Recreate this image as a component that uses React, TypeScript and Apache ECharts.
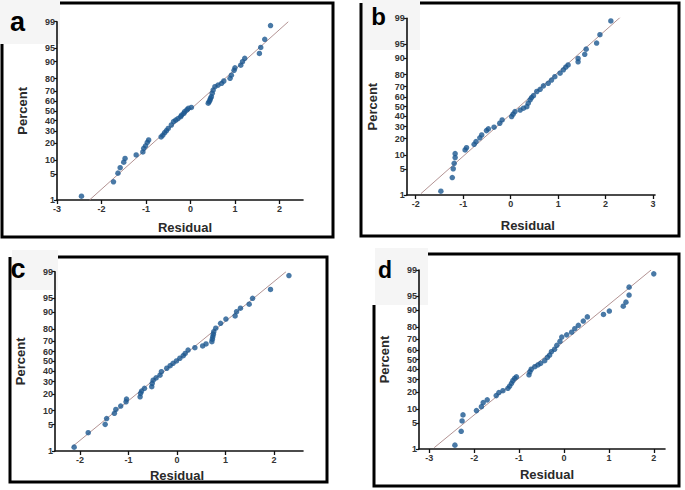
import React, { useEffect, useRef } from "react";
import * as echarts from "echarts";

const percentTicks = [1, 5, 10, 20, 30, 40, 50, 60, 70, 80, 90, 95, 99];
const panelLetters = ["a", "b", "c", "d"];
const xTitle = "Residual";
const yTitle = "Percent";

const residualTicksA = [-3, -2, -1, 0, 1, 2];
const residualTicksB = [-2, -1, 0, 1, 2, 3];
const residualTicksC = [-2, -1, 0, 1, 2];
const residualTicksD = [-3, -2, -1, 0, 1, 2];

const residA = [-2.45, -1.73, -1.63, -1.58, -1.5, -1.47, -1.22, -1.07, -1.05, -1.01, -0.97, -0.94, -0.66, -0.62, -0.58, -0.54, -0.5, -0.43, -0.38, -0.33, -0.28, -0.22, -0.2, -0.15, -0.13, -0.08, -0.05, 0.02, 0.4, 0.42, 0.44, 0.45, 0.47, 0.49, 0.51, 0.55, 0.62, 0.7, 0.75, 0.89, 0.92, 0.98, 1.0, 1.13, 1.17, 1.22, 1.55, 1.58, 1.67, 1.8];
const pctA = [1.3, 3.2, 5.2, 6.9, 9.0, 10.7, 12.5, 14.2, 16.4, 18.1, 20.6, 22.4, 24.8, 26.4, 28.4, 30.2, 32.3, 35.6, 39.0, 40.5, 42.0, 44.0, 45.6, 47.3, 49.2, 51.0, 52.6, 53.5, 57.9, 59.5, 61.1, 62.8, 64.4, 67.6, 70.6, 73.6, 74.9, 76.4, 78.2, 80.2, 82.4, 85.5, 86.9, 88.3, 90.0, 91.5, 93.3, 95.1, 96.9, 98.7];

const residB = [-1.47, -1.23, -1.21, -1.19, -1.17, -1.17, -0.96, -0.93, -0.77, -0.73, -0.65, -0.61, -0.51, -0.47, -0.35, -0.23, -0.18, 0.02, 0.05, 0.09, 0.2, 0.27, 0.34, 0.37, 0.41, 0.44, 0.48, 0.55, 0.62, 0.69, 0.79, 0.86, 0.93, 1.04, 1.11, 1.16, 1.21, 1.42, 1.42, 1.56, 1.59, 1.81, 1.88, 2.11];
const pctB = [1.3, 3.1, 5.1, 6.8, 9.0, 10.8, 12.7, 14.0, 16.1, 17.9, 20.6, 22.8, 26.4, 27.9, 29.4, 33.1, 36.3, 39.7, 42.1, 44.8, 46.4, 48.4, 50.0, 53.6, 57.1, 59.5, 61.4, 65.5, 67.6, 70.8, 73.1, 75.8, 78.5, 81.1, 83.4, 85.1, 86.4, 88.1, 89.8, 91.6, 93.5, 95.3, 97.1, 98.8];

const residC = [-2.12, -1.83, -1.48, -1.45, -1.29, -1.26, -1.16, -1.05, -1.04, -0.76, -0.75, -0.73, -0.67, -0.52, -0.51, -0.49, -0.43, -0.35, -0.32, -0.21, -0.14, -0.08, -0.01, 0.06, 0.13, 0.17, 0.23, 0.37, 0.53, 0.6, 0.72, 0.73, 0.74, 0.75, 0.76, 0.8, 0.9, 1.01, 1.2, 1.23, 1.31, 1.49, 1.56, 1.93, 2.31];
const pctC = [1.3, 3.2, 5.1, 6.9, 8.9, 10.6, 12.3, 14.7, 16.4, 17.9, 20.3, 22.0, 24.2, 25.5, 28.4, 31.2, 33.4, 36.0, 39.4, 42.9, 45.5, 48.0, 50.4, 53.2, 55.8, 58.1, 61.5, 63.8, 65.5, 67.4, 69.5, 71.7, 73.9, 75.9, 77.9, 80.5, 83.8, 86.4, 88.1, 90.1, 91.6, 93.1, 94.9, 96.9, 98.7];

const residD = [-2.43, -2.29, -2.27, -2.25, -1.95, -1.84, -1.8, -1.71, -1.51, -1.45, -1.36, -1.25, -1.21, -1.17, -1.14, -1.1, -1.06, -0.78, -0.76, -0.73, -0.65, -0.58, -0.52, -0.43, -0.37, -0.32, -0.28, -0.21, -0.16, -0.09, -0.05, 0.06, 0.17, 0.24, 0.32, 0.43, 0.52, 0.88, 1.01, 1.32, 1.38, 1.45, 1.45, 2.0];
const pctD = [1.3, 3.1, 5.5, 7.5, 9.2, 11.0, 13.1, 14.7, 17.4, 19.5, 20.9, 22.7, 24.5, 26.8, 29.1, 31.2, 32.6, 34.5, 37.5, 40.0, 42.6, 44.4, 46.1, 48.8, 52.2, 54.6, 58.0, 60.5, 64.4, 68.1, 72.0, 73.9, 76.1, 78.8, 81.3, 84.1, 86.6, 87.9, 89.6, 91.7, 93.2, 95.3, 97.0, 98.7];

const fitResidA = [-2.27, 2.2];
const fitPctA = [1.0, 99.0];
const fitResidB = [-1.89, 2.32];
const fitPctB = [1.1, 99.1];
const fitResidC = [-2.17, 2.25];
const fitPctC = [1.3, 99.0];
const fitResidD = [-2.89, 1.94];
const fitPctD = [1.1, 99.0];

// inverse normal CDF (probability-scale axis transform)
function probit(p: number): number {
  const a = [-3.969683028665376e1, 2.209460984245205e2, -2.759285104469687e2, 1.38357751867269e2, -3.066479806614716e1, 2.506628277459239];
  const b = [-5.447609879822406e1, 1.615858368580409e2, -1.556989798598866e2, 6.680131188771972e1, -1.328068155288572e1];
  const c = [-7.784894002430293e-3, -3.223964580411365e-1, -2.400758277161838, -2.549732539343734, 4.374664141464968, 2.938163982698783];
  const d = [7.784695709041462e-3, 3.224671290700398e-1, 2.445134137142996, 3.754408661907416];
  const plow = 0.02425;
  if (p < plow) {
    const q = Math.sqrt(-2 * Math.log(p));
    return (((((c[0] * q + c[1]) * q + c[2]) * q + c[3]) * q + c[4]) * q + c[5]) / ((((d[0] * q + d[1]) * q + d[2]) * q + d[3]) * q + 1);
  }
  if (p <= 1 - plow) {
    const q = p - 0.5;
    const r = q * q;
    return ((((((a[0] * r + a[1]) * r + a[2]) * r + a[3]) * r + a[4]) * r + a[5]) * q) / (((((b[0] * r + b[1]) * r + b[2]) * r + b[3]) * r + b[4]) * r + 1);
  }
  const q = Math.sqrt(-2 * Math.log(1 - p));
  return -(((((c[0] * q + c[1]) * q + c[2]) * q + c[3]) * q + c[4]) * q + c[5]) / ((((d[0] * q + d[1]) * q + d[2]) * q + d[3]) * q + 1);
}

const FONT = "'Liberation Sans', Arial, sans-serif";
const POINT_COLOR = "#1b5890";
const FIT_COLOR = "#b39393";

type Panel = {
  grid: { left: number; top: number; width: number; height: number };
  xMin: number;
  xMax: number;
  xTicks: number[];
  resid: number[];
  pct: number[];
  fitResid: number[];
  fitPct: number[];
  namePad: number[];
  nameGap: number;
};

const panels: Panel[] = [
  { grid: { left: 57, top: 21.7, width: 246, height: 178.3 }, xMin: -3, xMax: 2.53, xTicks: residualTicksA, resid: residA, pct: pctA, fitResid: fitResidA, fitPct: fitPctA, namePad: [0, 0, 0, 10], nameGap: 21 },
  { grid: { left: 406.7, top: 18.3, width: 248.3, height: 176.7 }, xMin: -2.19, xMax: 3.04, xTicks: residualTicksB, resid: residB, pct: pctB, fitResid: fitResidB, fitPct: fitPctB, namePad: [0, 6, 0, 0], nameGap: 24 },
  { grid: { left: 55, top: 271.7, width: 248, height: 179.3 }, xMin: -2.515, xMax: 2.6, xTicks: residualTicksC, resid: residC, pct: pctC, fitResid: fitResidC, fitPct: fitPctC, namePad: [0, 4, 0, 0], nameGap: 18 },
  { grid: { left: 419, top: 270, width: 246, height: 179 }, xMin: -3.23, xMax: 2.25, xTicks: residualTicksD, resid: residD, pct: pctD, fitResid: fitResidD, fitPct: fitPctD, namePad: [0, 0, 0, 10], nameGap: 19 },
];

// frame outlines (open at the top-left where the letter tag sits)
const frames: number[][][] = [
  [[60, 3], [333, 3], [333, 237], [2, 237], [2, 44]],
  [[420, 3], [679, 3], [679, 236], [361, 236], [361, 3]],
  [[58, 257], [327, 257], [327, 482], [10, 482], [10, 257]],
  [[428, 254], [679, 254], [679, 486], [374, 486], [374, 305]],
];
const letterBoxes = [
  { x: 0, y: 0, w: 60, h: 44, lx: 17.5, ly: 21.5, size: 27 },
  { x: 362, y: 0, w: 58, h: 50, lx: 378.5, ly: 16, size: 24 },
  { x: 12, y: 250, w: 46, h: 40, lx: 18, ly: 268.5, size: 27 },
  { x: 375, y: 248, w: 53, h: 57, lx: 385, ly: 270, size: 23 },
];

const yTickValues = percentTicks.map((p) => probit(p / 100));
const yLabel = (v: number) => {
  let best = 0;
  for (let i = 1; i < yTickValues.length; i++) {
    if (Math.abs(yTickValues[i] - v) < Math.abs(yTickValues[best] - v)) best = i;
  }
  return String(percentTicks[best]);
};

export default function App() {
  const ref = useRef<HTMLDivElement>(null);
  useEffect(() => {
    if (!ref.current) return;
    const chart = echarts.init(ref.current, undefined, { renderer: "svg" });
    const axisLine = { show: true, onZero: false, lineStyle: { color: "#111", width: 1.6 } };
    const labelStyle = { fontFamily: FONT, fontSize: 9, fontWeight: "bold" as const, color: "#333" };
    const nameStyle = { fontFamily: FONT, fontSize: 13, fontWeight: "bold" as const, color: "#2a2a2a" };

    const option: any = {
      animation: false,
      backgroundColor: "#ffffff",
      textStyle: { fontFamily: FONT },
      grid: panels.map((p) => ({ ...p.grid })),
      xAxis: panels.map((p, i) => ({
        type: "value",
        gridIndex: i,
        min: p.xMin,
        max: p.xMax,
        name: xTitle,
        nameLocation: "middle",
        nameGap: p.nameGap,
        nameTextStyle: { ...nameStyle, padding: p.namePad },
        axisLine,
        splitLine: { show: false },
        axisTick: { show: true, length: 4, customValues: p.xTicks, lineStyle: { color: "#111", width: 1.3 } },
        axisLabel: { ...labelStyle, margin: 4, customValues: p.xTicks, formatter: (v: number) => String(Math.round(v)) },
      })),
      yAxis: panels.map((p, i) => ({
        type: "value",
        gridIndex: i,
        min: probit(0.01),
        max: probit(0.99),
        name: yTitle,
        nameLocation: "middle",
        nameGap: 28,
        nameTextStyle: nameStyle,
        axisLine,
        splitLine: { show: false },
        axisTick: { show: true, length: 3, customValues: yTickValues, lineStyle: { color: "#111", width: 1.2 } },
        axisLabel: { ...labelStyle, margin: 2, customValues: yTickValues, formatter: yLabel },
      })),
      series: panels.flatMap((p, i) => [
        {
          type: "line",
          xAxisIndex: i,
          yAxisIndex: i,
          data: p.fitResid.map((r, k) => [r, probit(p.fitPct[k] / 100)]),
          showSymbol: false,
          symbol: "none",
          lineStyle: { color: FIT_COLOR, width: 1 },
          silent: true,
          z: 2,
        },
        {
          type: "scatter",
          xAxisIndex: i,
          yAxisIndex: i,
          data: p.resid.map((r, k) => [r, probit(p.pct[k] / 100)]),
          symbolSize: 5.5,
          itemStyle: { color: POINT_COLOR },
          z: 3,
        },
      ]),
      graphic: [
        ...letterBoxes.map((b) => ({
          type: "rect",
          shape: { x: b.x, y: b.y, width: b.w, height: b.h },
          style: { fill: "#f5f5f5", stroke: "none" },
          z: -10,
        })),
        ...frames.map((f) => ({
          type: "polyline",
          shape: { points: f },
          style: { fill: "none", stroke: "#000", lineWidth: 3 },
          z: 10,
        })),
        ...letterBoxes.map((b, i) => ({
          type: "text",
          x: b.lx,
          y: b.ly,
          style: {
            text: panelLetters[i],
            fontFamily: FONT,
            fontSize: b.size,
            fontWeight: "bold",
            fill: "#000",
            textAlign: "center",
            textVerticalAlign: "middle",
          },
          z: 12,
        })),
      ],
    };
    chart.setOption(option);
    return () => chart.dispose();
  }, []);
  return <div ref={ref} style={{ position: "absolute", left: 0, top: 0, width: 685, height: 490 }} />;
}
